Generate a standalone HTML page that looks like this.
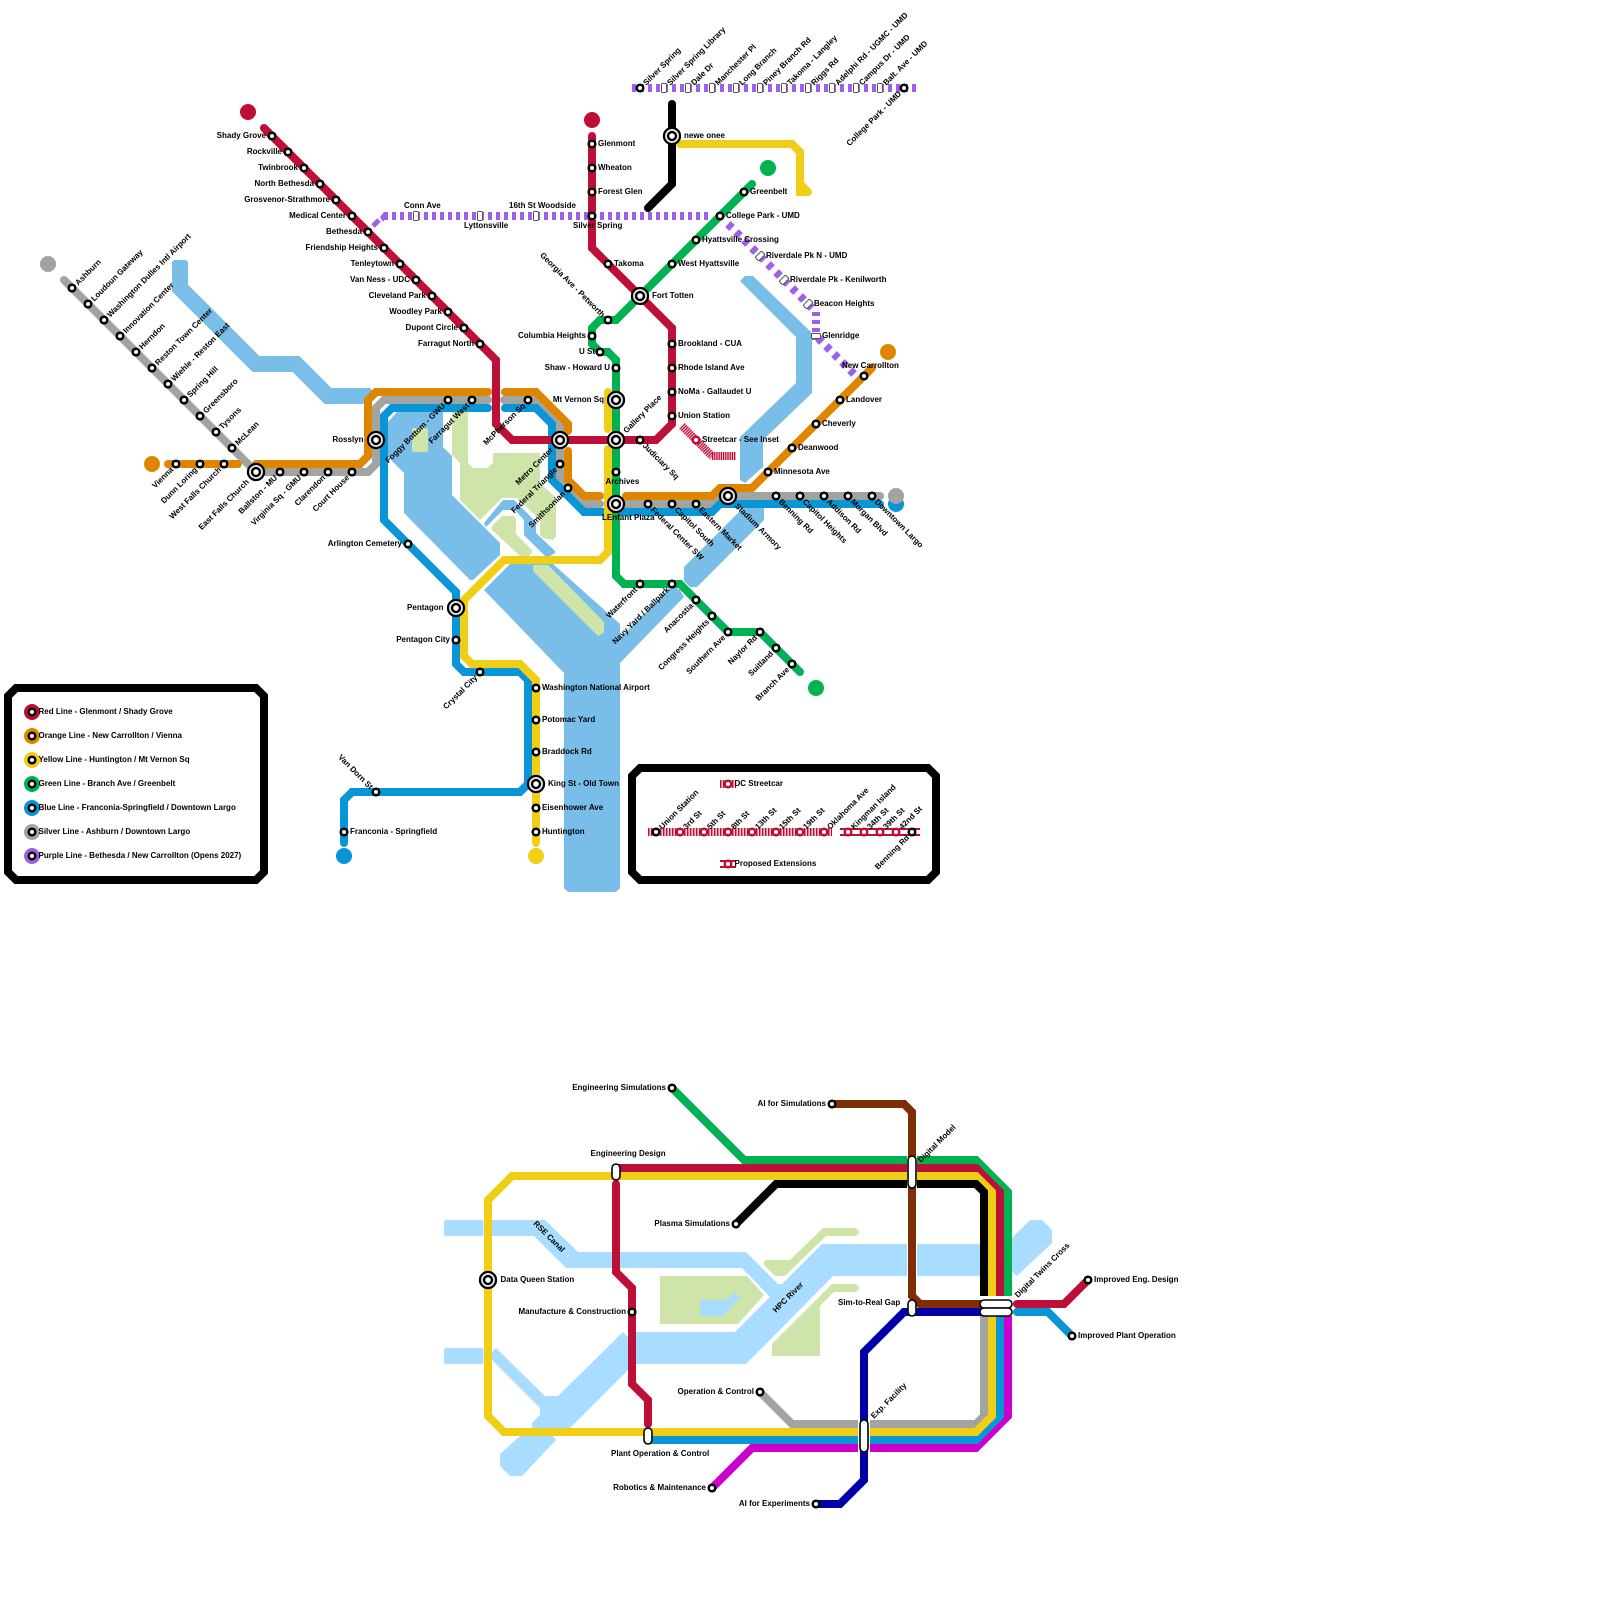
<!DOCTYPE html>
<html><head><meta charset="utf-8"><title>Metro diagram</title>
<style>
html,body{margin:0;padding:0;background:#fff}
svg{display:block}
text{font-family:"Liberation Sans",sans-serif;font-size:8px;font-weight:bold;fill:#000}
.e{text-anchor:end}
.l{fill:none;stroke-width:8;stroke-linecap:round;stroke-linejoin:miter}
.b{fill:none;stroke-width:8;stroke-linecap:butt;stroke-linejoin:miter}
.w{fill:#79bde9}.g{fill:#cfe4a9}.w2{fill:#a8ddff}
.pill{fill:#fff;stroke:#000;stroke-width:1.6}
</style></head><body>
<svg xmlns="http://www.w3.org/2000/svg" width="1600" height="1600" viewBox="0 0 1600 1600">
<defs>
<g id="s"><circle r="3.3" fill="#fff" stroke="#000" stroke-width="2.5"/></g>
<g id="i"><circle r="8" fill="#fff" stroke="#000" stroke-width="2.3"/><circle r="4" fill="#fff" stroke="#000" stroke-width="2.5"/></g>
<g id="c"><circle r="3.3" fill="#fff" stroke="#bd1038" stroke-width="2.5"/></g>
<g id="p"><rect x="-2.5" y="-4.5" width="5" height="9" rx="1" fill="#fff" stroke="#555" stroke-width="1"/></g>
</defs>

<!-- water top -->
<polyline points="180,262 180,288 256,364 296,364 328,396 362,396" fill="none" stroke="#79bde9" stroke-width="16"/>
<polygon class="w" points="174,260 186,260 188,262 188,270 172,270 172,262"/>
<polygon class="w" points="362,388 370,388 372,390 372,395 363,404 362,404"/>
<polygon class="w" points="388,422 397,412 443,412 443,447 452,456 452,495 500,543 500,555 473,580 470,580 404,513 404,473 388,457"/>
<polygon class="w" points="484,590 510,564 553,564 620,624 620,638 672,586 680,590 684,597 620,663 620,888 616,892 568,892 564,888 564,673"/>
<polygon class="w" points="740,281 745,276 753,276 812,333 812,393 763,440 763,467 745,483 740,480 740,437 796,383 796,337"/>
<polygon class="w" points="743,508 764,508 764,520 697,587 690,587 684,581 684,567"/>
<polygon class="w" points="484,523 503,500 514,500 536,522 536,533 555,551 555,553 550,556 545,556 524,535 524,520 515,510 503,510 486,527"/>
<!-- parks top -->
<rect class="g" x="412" y="428" width="16" height="24" rx="2"/>
<polygon class="g" points="452,412 468,412 468,463 473,468 487,468 493,463 493,453 540,453 540,483 556,498 556,537 553,540 543,538 540,535 540,520 517,498 502,498 480,520 460,500 460,463 452,455"/>
<polygon class="g" points="492,526 502,516 514,516 516,519 516,534 532,550 532,553 529,556 520,556 492,530"/>
<polygon class="g" points="533,565 548,565 604,622 604,633 598,636 533,571"/>

<!-- lines top -->
<path class="l" stroke="#a2a4a1" d="M64,280L256,472H368L376,464V408L384,400H488M504,400H536L560,424V480L584,504H600M620,504H712L720,496H880"/>
<path class="l" stroke="#0896d7" d="M488,408H392L384,416V520L456,592V664L464,672H520L528,680V784L520,792H352L344,800V843"/>
<path class="l" stroke="#0896d7" d="M505,408H536L552,424V480L584,512H712L720,504H880"/>
<circle cx="896" cy="504" r="8" fill="#0896d7"/>
<path class="l" stroke="#df8600" d="M168,464H238M256,464H360L368,456V400L376,392H488M505,392H536L568,424V431M568,451V480L584,496H600M626,496H712L720,488H752L872,368"/>
<path class="l" stroke="#bd1038" d="M264,128L496,360V424L512,440H656L672,424V328L592,248V136"/>
<path class="l" stroke="#f0ce15" d="M608,392V429M608,449V552L600,560H504L464,600V656L472,664H520L536,680V843"/>
<path class="l" stroke="#f0ce15" d="M680,144H792L800,152V192H808M800,184L808,192"/>
<path class="l" stroke="#00b251" d="M752,184L616,320H600L592,328V344L600,352H608L616,360V576L624,584H680L728,632H760L800,672"/>
<path class="l" stroke="#000" d="M672,104V184L648,208"/>
<!-- purple -->
<path class="b" stroke="#9d60e7" stroke-dasharray="4 4" d="M384,216H708"/>
<path class="b" stroke="#9d60e7" style="stroke-width:5" d="M373,226L379,220"/>
<polygon fill="#9d60e7" points="380,217 384,212 384,220 383,222"/>
<path class="b" stroke="#9d60e7" stroke-dasharray="4 4" d="M632,88H916"/>
<path class="b" stroke="#9d60e7" stroke-dasharray="5.66 5.66" d="M728,224L812,308"/>
<path class="b" stroke="#9d60e7" stroke-dasharray="4 4" d="M816,312V340"/>
<path class="b" stroke="#9d60e7" stroke-dasharray="5.66 5.66" d="M818,338L856,376"/>
<!-- streetcar hatch main -->
<path class="b" stroke="#f3c6d0" d="M682,426L712,456H736"/>
<path class="b" stroke="#bd1038" stroke-dasharray="1.2 1" d="M682,426L712,456"/>
<path class="b" stroke="#bd1038" stroke-dasharray="1.2 1" d="M712,456H736"/>

<!-- end dots -->
<circle cx="248" cy="112" r="8" fill="#bd1038"/><circle cx="592" cy="120" r="8" fill="#bd1038"/>
<circle cx="48" cy="264" r="8" fill="#a2a4a1"/><circle cx="152" cy="464" r="8" fill="#df8600"/>
<circle cx="888" cy="352" r="8" fill="#df8600"/><circle cx="768" cy="168" r="8" fill="#00b251"/>
<circle cx="816" cy="688" r="8" fill="#00b251"/><circle cx="896" cy="496" r="8" fill="#a2a4a1"/>
<circle cx="344" cy="856" r="8" fill="#0896d7"/><circle cx="536" cy="856" r="8" fill="#f0ce15"/>

<!-- stations: red -->
<use href="#s" x="272" y="136"/><use href="#s" x="288" y="152"/><use href="#s" x="304" y="168"/><use href="#s" x="320" y="184"/><use href="#s" x="336" y="200"/><use href="#s" x="352" y="216"/><use href="#s" x="368" y="232"/><use href="#s" x="384" y="248"/><use href="#s" x="400" y="264"/><use href="#s" x="416" y="280"/><use href="#s" x="432" y="296"/><use href="#s" x="448" y="312"/><use href="#s" x="464" y="328"/><use href="#s" x="480" y="344"/>
<use href="#s" x="592" y="144"/><use href="#s" x="592" y="168"/><use href="#s" x="592" y="192"/><use href="#s" x="592" y="216"/><use href="#s" x="608" y="264"/>
<use href="#s" x="672" y="344"/><use href="#s" x="672" y="368"/><use href="#s" x="672" y="392"/><use href="#s" x="672" y="416"/><use href="#s" x="640" y="440"/>
<!-- silver -->
<use href="#s" x="72" y="288"/><use href="#s" x="88" y="304"/><use href="#s" x="104" y="320"/><use href="#s" x="120" y="336"/><use href="#s" x="136" y="352"/><use href="#s" x="152" y="368"/><use href="#s" x="168" y="384"/><use href="#s" x="184" y="400"/><use href="#s" x="200" y="416"/><use href="#s" x="216" y="432"/><use href="#s" x="232" y="448"/>
<use href="#s" x="176" y="464"/><use href="#s" x="200" y="464"/><use href="#s" x="224" y="464"/>
<use href="#s" x="280" y="472"/><use href="#s" x="304" y="472"/><use href="#s" x="328" y="472"/><use href="#s" x="352" y="472"/>
<use href="#s" x="448" y="400"/><use href="#s" x="472" y="400"/><use href="#s" x="528" y="400"/>
<use href="#s" x="560" y="464"/><use href="#s" x="568" y="488"/>
<use href="#s" x="648" y="504"/><use href="#s" x="672" y="504"/><use href="#s" x="696" y="504"/>
<use href="#s" x="776" y="496"/><use href="#s" x="800" y="496"/><use href="#s" x="824" y="496"/><use href="#s" x="848" y="496"/><use href="#s" x="872" y="496"/>
<!-- orange -->
<use href="#s" x="768" y="472"/><use href="#s" x="792" y="448"/><use href="#s" x="816" y="424"/><use href="#s" x="840" y="400"/><use href="#s" x="864" y="376"/>
<!-- blue/yellow -->
<use href="#s" x="408" y="544"/><use href="#s" x="456" y="640"/><use href="#s" x="480" y="672"/><use href="#s" x="536" y="688"/><use href="#s" x="536" y="720"/><use href="#s" x="536" y="752"/><use href="#s" x="536" y="808"/><use href="#s" x="536" y="832"/><use href="#s" x="376" y="792"/><use href="#s" x="344" y="832"/>
<!-- green -->
<use href="#s" x="744" y="192"/><use href="#s" x="720" y="216"/><use href="#s" x="696" y="240"/><use href="#s" x="672" y="264"/><use href="#s" x="608" y="320"/><use href="#s" x="592" y="336"/><use href="#s" x="600" y="352"/><use href="#s" x="616" y="368"/><use href="#s" x="616" y="472"/><use href="#s" x="640" y="584"/><use href="#s" x="672" y="584"/><use href="#s" x="696" y="600"/><use href="#s" x="712" y="616"/><use href="#s" x="728" y="632"/><use href="#s" x="760" y="632"/><use href="#s" x="776" y="648"/><use href="#s" x="792" y="664"/>
<!-- top purple -->
<use href="#s" x="640" y="88"/><use href="#p" x="664" y="88"/><use href="#p" x="688" y="88"/><use href="#p" x="712" y="88"/><use href="#p" x="736" y="88"/><use href="#p" x="760" y="88"/><use href="#p" x="784" y="88"/><use href="#p" x="808" y="88"/><use href="#p" x="832" y="88"/><use href="#p" x="856" y="88"/><use href="#p" x="880" y="88"/><use href="#s" x="904" y="88"/>
<use href="#p" x="416" y="216"/><use href="#p" x="480" y="216"/><use href="#p" x="536" y="216"/>
<use href="#p" transform="translate(760 256) rotate(45)"/><use href="#p" transform="translate(784 280) rotate(45)"/><use href="#p" transform="translate(808 304) rotate(45)"/><use href="#p" transform="translate(816 336) rotate(90)"/>
<use href="#c" x="696" y="440"/>
<!-- interchanges -->
<use href="#i" x="256" y="472"/><use href="#i" x="376" y="440"/><use href="#i" x="560" y="440"/><use href="#i" x="616" y="400"/><use href="#i" x="616" y="440"/><use href="#i" x="616" y="504"/><use href="#i" x="728" y="496"/><use href="#i" x="640" y="296"/><use href="#i" x="672" y="136"/><use href="#i" x="456" y="608"/><use href="#i" x="536" y="784"/>

<!-- left labels -->
<text class="e" x="266" y="138">Shady Grove</text><text class="e" x="282" y="154">Rockville</text><text class="e" x="298" y="170">Twinbrook</text><text class="e" x="314" y="186">North Bethesda</text><text class="e" x="330" y="202">Grosvenor-Strathmore</text><text class="e" x="346" y="218">Medical Center</text><text class="e" x="362" y="234">Bethesda</text><text class="e" x="378" y="250">Friendship Heights</text><text class="e" x="394" y="266">Tenleytown</text><text class="e" x="410" y="282">Van Ness - UDC</text><text class="e" x="426" y="298">Cleveland Park</text><text class="e" x="442" y="314">Woodley Park</text><text class="e" x="458" y="330">Dupont Circle</text><text class="e" x="474" y="346">Farragut North</text>
<text class="e" x="363.500" y="442">Rosslyn</text><text class="e" x="402" y="546">Arlington Cemetery</text><text class="e" x="443.500" y="610">Pentagon</text><text class="e" x="450" y="642">Pentagon City</text>
<text class="e" x="586" y="338">Columbia Heights</text><text class="e" x="595" y="354">U St</text><text class="e" x="610" y="370">Shaw - Howard U</text><text class="e" x="604" y="402">Mt Vernon Sq</text>
<!-- right labels -->
<text x="598" y="146">Glenmont</text><text x="598" y="170">Wheaton</text><text x="598" y="194">Forest Glen</text>
<text x="614" y="266">Takoma</text><text x="652" y="298">Fort Totten</text><text x="684" y="138">newe onee</text>
<text x="750" y="194">Greenbelt</text><text x="726" y="218">College Park - UMD</text><text x="702" y="242">Hyattsville Crossing</text><text x="678" y="266">West Hyattsville</text>
<text x="766" y="258">Riverdale Pk N - UMD</text><text x="790" y="282">Riverdale Pk - Kenilworth</text><text x="814" y="306">Beacon Heights</text><text x="822" y="338">Glenridge</text>
<text x="678" y="346">Brookland - CUA</text><text x="678" y="370">Rhode Island Ave</text><text x="678" y="394">NoMa - Gallaudet U</text><text x="678" y="418">Union Station</text><text x="702" y="442">Streetcar - See Inset</text>
<text x="774" y="474">Minnesota Ave</text><text x="798" y="450">Deanwood</text><text x="822" y="426">Cheverly</text><text x="846" y="402">Landover</text><text x="842" y="368">New Carrollton</text>
<text x="542" y="690">Washington National Airport</text><text x="542" y="722">Potomac Yard</text><text x="542" y="754">Braddock Rd</text><text x="548" y="786">King St - Old Town</text><text x="542" y="810">Eisenhower Ave</text><text x="542" y="834">Huntington</text><text x="350" y="834">Franconia - Springfield</text>
<text x="404" y="208">Conn Ave</text><text x="464" y="228">Lyttonsville</text><text x="509" y="208">16th St Woodside</text><text x="573" y="228">Silver Spring</text>
<text x="605.500" y="484">Archives</text><text x="602" y="520">LEnfant Plaza</text>

<!-- -45 start -->
<text transform="translate(72 288) rotate(-45)" x="6" y="2.8">Ashburn</text><text transform="translate(88 304) rotate(-45)" x="6" y="2.8">Loudoun Gateway</text><text transform="translate(104 320) rotate(-45)" x="6" y="2.8">Washington Dulles Intl Airport</text><text transform="translate(120 336) rotate(-45)" x="6" y="2.8">Innovation Center</text><text transform="translate(136 352) rotate(-45)" x="6" y="2.8">Herndon</text><text transform="translate(152 368) rotate(-45)" x="6" y="2.8">Reston Town Center</text><text transform="translate(168 384) rotate(-45)" x="6" y="2.8">Wiehle - Reston East</text><text transform="translate(184 400) rotate(-45)" x="6" y="2.8">Spring Hill</text><text transform="translate(200 416) rotate(-45)" x="6" y="2.8">Greensboro</text><text transform="translate(216 432) rotate(-45)" x="6" y="2.8">Tysons</text><text transform="translate(232 448) rotate(-45)" x="6" y="2.8">McLean</text>
<text transform="translate(616 440) rotate(-45)" x="12" y="2.8">Gallery Place</text>
<text transform="translate(640 88) rotate(-45)" x="6" y="2.8">Silver Spring</text><text transform="translate(664 88) rotate(-45)" x="6" y="2.8">Silver Spring Library</text><text transform="translate(688 88) rotate(-45)" x="6" y="2.8">Dale Dr</text><text transform="translate(712 88) rotate(-45)" x="6" y="2.8">Manchester Pl</text><text transform="translate(736 88) rotate(-45)" x="6" y="2.8">Long Branch</text><text transform="translate(760 88) rotate(-45)" x="6" y="2.8">Piney Branch Rd</text><text transform="translate(784 88) rotate(-45)" x="6" y="2.8">Takoma - Langley</text><text transform="translate(808 88) rotate(-45)" x="6" y="2.8">Riggs Rd</text><text transform="translate(832 88) rotate(-45)" x="6" y="2.8">Adelphi Rd - UGMC - UMD</text><text transform="translate(856 88) rotate(-45)" x="6" y="2.8">Campus Dr - UMD</text><text transform="translate(880 88) rotate(-45)" x="6" y="2.8">Balt. Ave - UMD</text>
<!-- -45 end -->
<text class="e" transform="translate(904 88) rotate(-45)" x="-6" y="2.8">College Park - UMD</text>
<text class="e" transform="translate(176 464) rotate(-45)" x="-6" y="2.8">Vienna</text><text class="e" transform="translate(200 464) rotate(-45)" x="-6" y="2.8">Dunn Loring</text><text class="e" transform="translate(224 464) rotate(-45)" x="-6" y="2.8">West Falls Church</text><text class="e" transform="translate(256 472) rotate(-45)" x="-12" y="2.8">East Falls Church</text><text class="e" transform="translate(280 472) rotate(-45)" x="-6" y="2.8">Ballston - MU</text><text class="e" transform="translate(304 472) rotate(-45)" x="-6" y="2.8">Virginia Sq - GMU</text><text class="e" transform="translate(328 472) rotate(-45)" x="-6" y="2.8">Clarendon</text><text class="e" transform="translate(352 472) rotate(-45)" x="-6" y="2.8">Court House</text>
<text class="e" transform="translate(448 400) rotate(-45)" x="-6" y="2.8">Foggy Bottom - GWU</text><text class="e" transform="translate(472 400) rotate(-45)" x="-6" y="2.8">Farragut West</text><text class="e" transform="translate(528 400) rotate(-45)" x="-6" y="2.8">McPherson Sq</text>
<text class="e" transform="translate(560 440) rotate(-45)" x="-12" y="2.8">Metro Center</text><text class="e" transform="translate(560 464) rotate(-45)" x="-6" y="2.8">Federal Triangle</text><text class="e" transform="translate(568 488) rotate(-45)" x="-6" y="2.8">Smithsonian</text>
<text class="e" transform="translate(640 584) rotate(-45)" x="-6" y="2.8">Waterfront</text><text class="e" transform="translate(672 584) rotate(-45)" x="-6" y="2.8">Navy Yard / Ballpark</text><text class="e" transform="translate(696 600) rotate(-45)" x="-6" y="2.8">Anacostia</text><text class="e" transform="translate(712 616) rotate(-45)" x="-6" y="2.8">Congress Heights</text><text class="e" transform="translate(728 632) rotate(-45)" x="-6" y="2.8">Southern Ave</text><text class="e" transform="translate(760 632) rotate(-45)" x="-6" y="2.8">Naylor Rd</text><text class="e" transform="translate(776 648) rotate(-45)" x="-6" y="2.8">Suitland</text><text class="e" transform="translate(792 664) rotate(-45)" x="-6" y="2.8">Branch Ave</text>
<text class="e" transform="translate(480 672) rotate(-45)" x="-6" y="2.8">Crystal City</text>
<!-- +45 -->
<text transform="translate(640 440) rotate(45)" x="6" y="2.8">Judiciary Sq</text><text transform="translate(648 504) rotate(45)" x="6" y="2.8">Federal Center SW</text><text transform="translate(672 504) rotate(45)" x="6" y="2.8">Capitol South</text><text transform="translate(696 504) rotate(45)" x="6" y="2.8">Eastern Market</text><text transform="translate(728 496) rotate(45)" x="12" y="2.8">Stadium Armory</text><text transform="translate(776 496) rotate(45)" x="6" y="2.8">Benning Rd</text><text transform="translate(800 496) rotate(45)" x="6" y="2.8">Capitol Heights</text><text transform="translate(824 496) rotate(45)" x="6" y="2.8">Addison Rd</text><text transform="translate(848 496) rotate(45)" x="6" y="2.8">Morgan Blvd</text><text transform="translate(872 496) rotate(45)" x="6" y="2.8">Downtown Largo</text>
<text class="e" transform="translate(608 320) rotate(45)" x="-6" y="2.8">Georgia Ave - Petworth</text><text class="e" transform="translate(376 792) rotate(45)" x="-6" y="2.8">Van Dorn St</text>

<!-- legend -->
<polygon points="16,688 256,688 264,696 264,872 256,880 16,880 8,872 8,696" fill="#fff" stroke="#000" stroke-width="8"/>
<circle cx="32" cy="712" r="8" fill="#bd1038"/><use href="#s" x="32" y="712"/><text x="38.500" y="714">Red Line - Glenmont / Shady Grove</text>
<circle cx="32" cy="736" r="8" fill="#df8600"/><use href="#s" x="32" y="736"/><text x="38.500" y="738">Orange Line - New Carrollton / Vienna</text>
<circle cx="32" cy="760" r="8" fill="#f0ce15"/><use href="#s" x="32" y="760"/><text x="38.500" y="762">Yellow Line - Huntington / Mt Vernon Sq</text>
<circle cx="32" cy="784" r="8" fill="#00b251"/><use href="#s" x="32" y="784"/><text x="38.500" y="786">Green Line - Branch Ave / Greenbelt</text>
<circle cx="32" cy="808" r="8" fill="#0896d7"/><use href="#s" x="32" y="808"/><text x="38.500" y="810">Blue Line - Franconia-Springfield / Downtown Largo</text>
<circle cx="32" cy="832" r="8" fill="#a2a4a1"/><use href="#s" x="32" y="832"/><text x="38.500" y="834">Silver Line - Ashburn / Downtown Largo</text>
<circle cx="32" cy="856" r="8" fill="#9d60e7"/><use href="#s" x="32" y="856"/><text x="38.500" y="858">Purple Line - Bethesda / New Carrollton (Opens 2027)</text>

<!-- inset -->
<polygon points="640,768 928,768 936,776 936,872 928,880 640,880 632,872 632,776" fill="#fff" stroke="#000" stroke-width="8"/>
<path class="b" stroke="#f3c6d0" d="M648,832H832"/><path class="b" stroke="#bd1038" stroke-dasharray="1.4 1.6" d="M648,832H832"/>
<path class="b" stroke="#bd1038" d="M840,832H920"/><path stroke="#fff" stroke-width="4" d="M840,832H920"/>
<path class="b" stroke="#f3c6d0" d="M720,784H736"/><path class="b" stroke="#bd1038" stroke-dasharray="1.4 1.6" d="M720,784H736"/>
<path class="b" stroke="#bd1038" d="M720,864H736"/><path stroke="#fff" stroke-width="4" d="M720,864H736"/>
<use href="#c" x="728" y="784"/><use href="#c" x="728" y="864"/>
<text x="734.500" y="786">DC Streetcar</text><text x="734.500" y="866">Proposed Extensions</text>
<use href="#s" x="656" y="832"/><use href="#c" x="680" y="832"/><use href="#c" x="704" y="832"/><use href="#c" x="728" y="832"/><use href="#c" x="752" y="832"/><use href="#c" x="776" y="832"/><use href="#c" x="800" y="832"/><use href="#c" x="824" y="832"/><use href="#c" x="848" y="832"/><use href="#c" x="864" y="832"/><use href="#c" x="880" y="832"/><use href="#c" x="896" y="832"/><use href="#s" x="912" y="832"/>
<text transform="translate(656 832) rotate(-45)" x="6" y="2.8">Union Station</text><text transform="translate(680 832) rotate(-45)" x="6" y="2.8">3rd St</text><text transform="translate(704 832) rotate(-45)" x="6" y="2.8">5th St</text><text transform="translate(728 832) rotate(-45)" x="6" y="2.8">8th St</text><text transform="translate(752 832) rotate(-45)" x="6" y="2.8">13th St</text><text transform="translate(776 832) rotate(-45)" x="6" y="2.8">15th St</text><text transform="translate(800 832) rotate(-45)" x="6" y="2.8">19th St</text><text transform="translate(824 832) rotate(-45)" x="6" y="2.8">Oklahoma Ave</text><text transform="translate(848 832) rotate(-45)" x="6" y="2.8">Kingman Island</text><text transform="translate(864 832) rotate(-45)" x="6" y="2.8">34th St</text><text transform="translate(880 832) rotate(-45)" x="6" y="2.8">39th St</text><text transform="translate(896 832) rotate(-45)" x="6" y="2.8">42nd St</text>
<text class="e" transform="translate(912 832) rotate(-45)" x="-6" y="2.8">Benning Rd</text>

<!-- bottom diagram water -->
<rect class="w2" x="444" y="1220" width="39.500" height="16" rx="2"/>
<polygon class="w2" points="492,1220 545,1220 578,1252 612,1252 612,1268 566,1268 534,1236 492,1236"/>
<polygon class="w2" points="620,1252 746,1252 778,1284 782,1284 822,1244 907,1244 907,1276 833,1276 746,1364 636,1364 636,1332 735,1332 770,1297 742,1268 620,1268"/>
<rect class="w2" x="917" y="1244" width="63" height="32" rx="2"/>
<polygon class="w2" points="1012,1238 1030,1220 1042,1220 1052,1230 1052,1243 1017,1276 1012,1272"/>
<rect class="w2" x="444" y="1348" width="39.500" height="16" rx="2"/>
<polygon class="w2" points="496,1348 545,1396 558,1396 623,1332 628,1337 628,1370 570,1428 532,1428 532,1423 540,1415 540,1408 492,1360 492,1352"/>
<polygon class="w2" points="520,1436 553,1436 556,1440 522,1476 510,1476 500,1466 500,1454"/>
<circle cx="568" cy="1256" r="1" fill="#fff"/><circle cx="808" cy="1280" r="1" fill="#fff"/>
<!-- bottom parks -->
<polygon class="g" points="660,1276 747,1276 764,1295 738,1324 660,1324"/>
<polygon class="w2" points="700,1300 726,1300 735,1292 741,1297 723,1316 700,1316"/>
<polygon class="g" points="764,1262 766,1260 790,1260 823,1228 856,1228 860,1232 856,1236 826,1236 785,1276 775,1276 764,1265"/>
<polygon class="g" points="772,1344 832,1284 856,1284 860,1288 856,1292 834,1292 820,1306 820,1356 772,1356"/>

<!-- bottom lines -->
<path class="b" stroke="#cc00cc" d="M712,1488L752,1448H976L1008,1416V1316"/>
<path class="b" stroke="#0896d7" d="M648,1440H976L1000,1416V1316"/>
<path class="b" stroke="#a2a4a1" d="M760,1392L792,1424H976L984,1416V1316"/>
<path class="b" stroke="#00b251" d="M672,1088L744,1160H976L1008,1192V1296"/>
<path class="b" stroke="#bd1038" d="M616,1168H976L1000,1192V1296"/>
<path class="b" stroke="#f0ce15" d="M648,1432H976L992,1416V1316M992,1296V1192L976,1176H512L488,1200V1416L504,1432H648"/>
<path class="b" stroke="#000" d="M736,1224L776,1184H976L984,1192V1296"/>
<!-- halos -->
<rect x="907" y="1154" width="10" height="36" fill="#fff"/>
<rect x="858" y="1418" width="12" height="36" fill="#fff"/>
<path class="l" stroke="#bd1038" d="M616,1184V1272L632,1288V1384L648,1400V1424"/>
<path class="b" stroke="#7f2d05" d="M832,1104H904L912,1112V1296L920,1304H984"/>
<path class="b" stroke="#0000a8" d="M816,1504H840L864,1480V1352L904,1312H984"/>
<path class="l" stroke="#bd1038" d="M1017,1304H1064L1088,1280"/>
<path class="l" stroke="#0896d7" d="M1017,1312H1048L1072,1336"/>
<!-- pills -->
<rect class="pill" x="612" y="1164" width="8" height="16" rx="4"/>
<rect class="pill" x="644" y="1428" width="8" height="16" rx="4"/>
<rect class="pill" x="908" y="1156" width="8" height="32" rx="4"/>
<rect class="pill" x="860" y="1420" width="8" height="32" rx="4"/>
<rect class="pill" x="908" y="1300" width="8" height="16" rx="4"/>
<rect class="pill" x="980" y="1300" width="32" height="8" rx="4"/>
<rect class="pill" x="980" y="1308" width="32" height="8" rx="4"/>
<use href="#s" x="672" y="1088"/><use href="#s" x="832" y="1104"/><use href="#s" x="736" y="1224"/><use href="#s" x="632" y="1312"/><use href="#s" x="760" y="1392"/><use href="#s" x="712" y="1488"/><use href="#s" x="816" y="1504"/><use href="#s" x="1088" y="1280"/><use href="#s" x="1072" y="1336"/>
<use href="#i" x="488" y="1280"/>
<!-- bottom labels -->
<text class="e" x="666" y="1090">Engineering Simulations</text><text class="e" x="826" y="1106">AI for Simulations</text><text class="e" x="730" y="1226">Plasma Simulations</text><text class="e" x="626" y="1314">Manufacture &amp; Construction</text><text class="e" x="754" y="1394">Operation &amp; Control</text><text class="e" x="706" y="1490">Robotics &amp; Maintenance</text><text class="e" x="810" y="1506">AI for Experiments</text>
<text x="590.500" y="1156">Engineering Design</text><text x="611" y="1456">Plant Operation &amp; Control</text><text x="500.500" y="1282">Data Queen Station</text><text x="838" y="1305">Sim-to-Real Gap</text>
<text x="1094" y="1282">Improved Eng. Design</text><text x="1078" y="1338">Improved Plant Operation</text>
<text transform="translate(921 1163) rotate(-45)">Digital Model</text>
<text transform="translate(874 1419) rotate(-45)">Exp. Facility</text>
<text transform="translate(1018 1298) rotate(-45)">Digital Twins Cross</text>
<text transform="translate(533 1224) rotate(45)">RSE Canal</text>
<text transform="translate(776 1313) rotate(-45)">HPC River</text>
</svg>
</body></html>
